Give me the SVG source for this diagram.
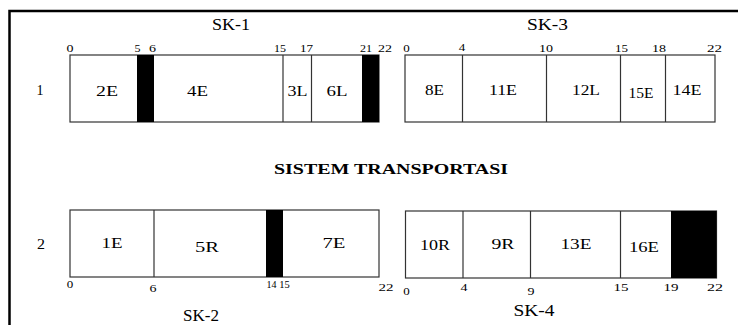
<svg xmlns="http://www.w3.org/2000/svg" width="738" height="325" viewBox="0 0 738 325" font-family="'Liberation Serif', 'Times New Roman', 'DejaVu Serif', serif">
  <style>
    .frame { fill: none; stroke: #000; stroke-width: 2.5; }
    .box { fill: #fff; stroke: #333; stroke-width: 1.2; }
    .div { stroke: #333; stroke-width: 1.2; }
    .blk { fill: #000; }
    text { font-family: 'Liberation Serif', 'Times New Roman', 'DejaVu Serif', serif; fill: #000; text-anchor: middle; }
    .title { font-size: 16px; }
    .num { font-size: 11px; }
    .cell { font-size: 14px; }
    .row { font-size: 15px; }
    .head { font-size: 14.5px; font-weight: bold; }
  </style>

  <!-- outer frame, open to the right and bottom -->
  <rect class="frame" x="9.5" y="11" width="740" height="330"/>

  <!-- SK-1: time axis 0..22 -->
  <g id="sk1">
    <text class="title" x="231" y="30" textLength="38" lengthAdjust="spacingAndGlyphs">SK-1</text>
    <rect class="box" x="70" y="55" width="309" height="67"/>
    <rect class="blk" x="137" y="55" width="17" height="67"/>
    <rect class="blk" x="362" y="55" width="17" height="67"/>
    <line class="div" x1="283" y1="55" x2="283" y2="122"/>
    <line class="div" x1="311.5" y1="55" x2="311.5" y2="122"/>
    <text class="num" x="70" y="51.5" textLength="7" lengthAdjust="spacingAndGlyphs">0</text>
    <text class="num" x="137.5" y="51.5" textLength="6" lengthAdjust="spacingAndGlyphs">5</text>
    <text class="num" x="152.5" y="51.5" textLength="7" lengthAdjust="spacingAndGlyphs">6</text>
    <text class="num" x="280" y="51.5" textLength="12" lengthAdjust="spacingAndGlyphs">15</text>
    <text class="num" x="306.5" y="51.5" textLength="13" lengthAdjust="spacingAndGlyphs">17</text>
    <text class="num" x="366" y="51.5" textLength="12" lengthAdjust="spacingAndGlyphs">21</text>
    <text class="num" x="385" y="51.5" textLength="14" lengthAdjust="spacingAndGlyphs">22</text>
    <text class="cell" x="107" y="95.5" textLength="22" lengthAdjust="spacingAndGlyphs">2E</text>
    <text class="cell" x="197.5" y="95.5" textLength="21" lengthAdjust="spacingAndGlyphs">4E</text>
    <text class="cell" x="297.5" y="95.5" textLength="20" lengthAdjust="spacingAndGlyphs">3L</text>
    <text class="cell" x="337" y="96" textLength="21" lengthAdjust="spacingAndGlyphs">6L</text>
  </g>

  <!-- SK-3 -->
  <g id="sk3">
    <text class="title" x="547.5" y="30" textLength="41" lengthAdjust="spacingAndGlyphs">SK-3</text>
    <rect class="box" x="405" y="55" width="310" height="67"/>
    <line class="div" x1="462.5" y1="55" x2="462.5" y2="122"/>
    <line class="div" x1="546.5" y1="55" x2="546.5" y2="122"/>
    <line class="div" x1="620.5" y1="55" x2="620.5" y2="122"/>
    <line class="div" x1="665.5" y1="55" x2="665.5" y2="122"/>
    <text class="num" x="406.5" y="52" textLength="6.5" lengthAdjust="spacingAndGlyphs">0</text>
    <text class="num" x="462" y="51" textLength="6.5" lengthAdjust="spacingAndGlyphs">4</text>
    <text class="num" x="546" y="52" textLength="14" lengthAdjust="spacingAndGlyphs">10</text>
    <text class="num" x="621.5" y="52" textLength="13" lengthAdjust="spacingAndGlyphs">15</text>
    <text class="num" x="659" y="52" textLength="14" lengthAdjust="spacingAndGlyphs">18</text>
    <text class="num" x="714.5" y="52" textLength="15" lengthAdjust="spacingAndGlyphs">22</text>
    <text class="cell" x="434.5" y="95" textLength="19" lengthAdjust="spacingAndGlyphs">8E</text>
    <text class="cell" x="503" y="95" textLength="28" lengthAdjust="spacingAndGlyphs">11E</text>
    <text class="cell" x="586" y="95" textLength="28" lengthAdjust="spacingAndGlyphs">12L</text>
    <text class="cell" x="641" y="98" textLength="25" lengthAdjust="spacingAndGlyphs">15E</text>
    <text class="cell" x="687" y="95" textLength="29" lengthAdjust="spacingAndGlyphs">14E</text>
  </g>

  <!-- row labels and heading -->
  <g id="labels">
    <text class="row" x="40" y="94.5" textLength="7" lengthAdjust="spacingAndGlyphs">1</text>
    <text class="row" x="41" y="249" textLength="8" lengthAdjust="spacingAndGlyphs">2</text>
    <text class="head" x="391" y="174" textLength="234" lengthAdjust="spacingAndGlyphs">SISTEM TRANSPORTASI</text>
  </g>

  <!-- SK-2 -->
  <g id="sk2">
    <rect class="box" x="70" y="210" width="309" height="67"/>
    <line class="div" x1="154" y1="210" x2="154" y2="277"/>
    <rect class="blk" x="266" y="210" width="17" height="67"/>
    <text class="num" x="70" y="287.5" textLength="6.5" lengthAdjust="spacingAndGlyphs">0</text>
    <text class="num" x="153" y="291.5" textLength="7" lengthAdjust="spacingAndGlyphs">6</text>
    <text class="num" x="271.5" y="287.5" textLength="10" lengthAdjust="spacingAndGlyphs">14</text>
    <text class="num" x="284.5" y="287.5" textLength="10.5" lengthAdjust="spacingAndGlyphs">15</text>
    <text class="num" x="386" y="290.5" textLength="15" lengthAdjust="spacingAndGlyphs">22</text>
    <text class="cell" x="112" y="248" textLength="21" lengthAdjust="spacingAndGlyphs">1E</text>
    <text class="cell" x="207" y="251.5" textLength="24" lengthAdjust="spacingAndGlyphs">5R</text>
    <text class="cell" x="334" y="248" textLength="23" lengthAdjust="spacingAndGlyphs">7E</text>
    <text class="title" x="201" y="321" textLength="36" lengthAdjust="spacingAndGlyphs">SK-2</text>
  </g>

  <!-- SK-4 -->
  <g id="sk4">
    <rect class="box" x="405.5" y="211" width="311" height="67"/>
    <line class="div" x1="463" y1="211" x2="463" y2="278"/>
    <line class="div" x1="530.5" y1="211" x2="530.5" y2="278"/>
    <line class="div" x1="620.5" y1="211" x2="620.5" y2="278"/>
    <rect class="blk" x="671" y="211" width="45.5" height="67"/>
    <text class="num" x="406.5" y="295" textLength="6.5" lengthAdjust="spacingAndGlyphs">0</text>
    <text class="num" x="464" y="290.5" textLength="7" lengthAdjust="spacingAndGlyphs">4</text>
    <text class="num" x="531" y="295" textLength="7" lengthAdjust="spacingAndGlyphs">9</text>
    <text class="num" x="621" y="290.5" textLength="15" lengthAdjust="spacingAndGlyphs">15</text>
    <text class="num" x="671" y="290.5" textLength="15" lengthAdjust="spacingAndGlyphs">19</text>
    <text class="num" x="715" y="290.5" textLength="16" lengthAdjust="spacingAndGlyphs">22</text>
    <text class="cell" x="435" y="250" textLength="30" lengthAdjust="spacingAndGlyphs">10R</text>
    <text class="cell" x="503" y="248.5" textLength="23" lengthAdjust="spacingAndGlyphs">9R</text>
    <text class="cell" x="576" y="248.5" textLength="31" lengthAdjust="spacingAndGlyphs">13E</text>
    <text class="cell" x="644" y="252" textLength="30" lengthAdjust="spacingAndGlyphs">16E</text>
    <text class="title" x="534" y="316" textLength="41" lengthAdjust="spacingAndGlyphs">SK-4</text>
  </g>
</svg>
